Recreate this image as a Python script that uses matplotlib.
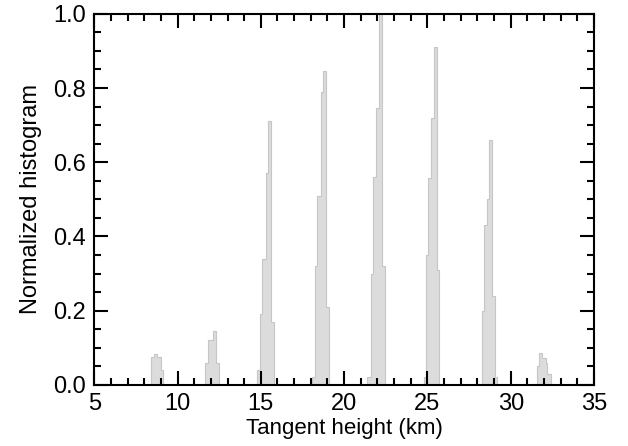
import matplotlib.pyplot as plt
import numpy as np

plt.rcParams['font.family'] = ['Liberation Sans', 'DejaVu Sans']

# bin edges (km) and normalized counts for each cluster of tangent heights
edges_09 = [8.40, 8.58, 8.78, 8.98, 9.15]
vals_09 = [0.076, 0.083, 0.076, 0.040]
edges_12 = [11.65, 11.85, 12.14, 12.30, 12.50]
vals_12 = [0.058, 0.120, 0.144, 0.058]
edges_15 = [14.78, 14.94, 15.10, 15.30, 15.44, 15.64, 15.78]
vals_15 = [0.040, 0.190, 0.340, 0.570, 0.710, 0.170]
edges_18 = [18.07, 18.23, 18.37, 18.59, 18.73, 18.93, 19.07]
vals_18 = [0.020, 0.320, 0.510, 0.790, 0.845, 0.210]
edges_22 = [21.37, 21.63, 21.73, 21.93, 22.08, 22.29, 22.43]
vals_22 = [0.020, 0.300, 0.560, 0.745, 1.000, 0.320]
edges_25 = [24.78, 24.92, 25.06, 25.22, 25.38, 25.58, 25.72]
vals_25 = [0.020, 0.350, 0.557, 0.720, 0.910, 0.310]
edges_28 = [28.25, 28.41, 28.55, 28.71, 28.90, 29.05, 29.20]
vals_28 = [0.200, 0.430, 0.500, 0.660, 0.240, 0.020]
edges_32 = [31.55, 31.71, 31.90, 32.10, 32.20, 32.40]
vals_32 = [0.050, 0.087, 0.073, 0.060, 0.030]

groups = [(edges_09, vals_09), (edges_12, vals_12), (edges_15, vals_15),
          (edges_18, vals_18), (edges_22, vals_22), (edges_25, vals_25),
          (edges_28, vals_28), (edges_32, vals_32)]

fig = plt.figure(figsize=(6.28, 4.46), dpi=100)
ax = fig.add_axes([0.150, 0.137, 0.796, 0.832])

for e, v in groups:
    ax.stairs(v, e, fill=True, color='#dcdcdc', linewidth=0)
    ax.stairs(v, e, fill=False, color='#c6c6c6', linewidth=0.8)

ax.set_xlim(5, 35)
ax.set_ylim(0, 1.0)
ax.set_xticks(np.arange(5, 36, 5))
ax.set_xticks(np.arange(5, 36, 1), minor=True)
ax.set_yticks(np.arange(0, 1.01, 0.2))
ax.set_yticks(np.arange(0, 1.01, 0.05), minor=True)
ax.set_yticklabels(['%.1f' % t for t in np.arange(0, 1.01, 0.2)])

for s in ax.spines.values():
    s.set_linewidth(1.5)
ax.tick_params(which='both', direction='in', top=True, right=True, width=1.5,
               labelsize=17)
ax.tick_params(which='major', length=10)
ax.tick_params(which='minor', length=5)
ax.tick_params(axis='x', pad=6)
ax.tick_params(axis='y', pad=6)

ax.set_xlabel('Tangent height (km)', fontsize=16, labelpad=2)
ax.set_ylabel('Normalized histogram', fontsize=17, labelpad=8)

fig.savefig('out.png', dpi=100)
